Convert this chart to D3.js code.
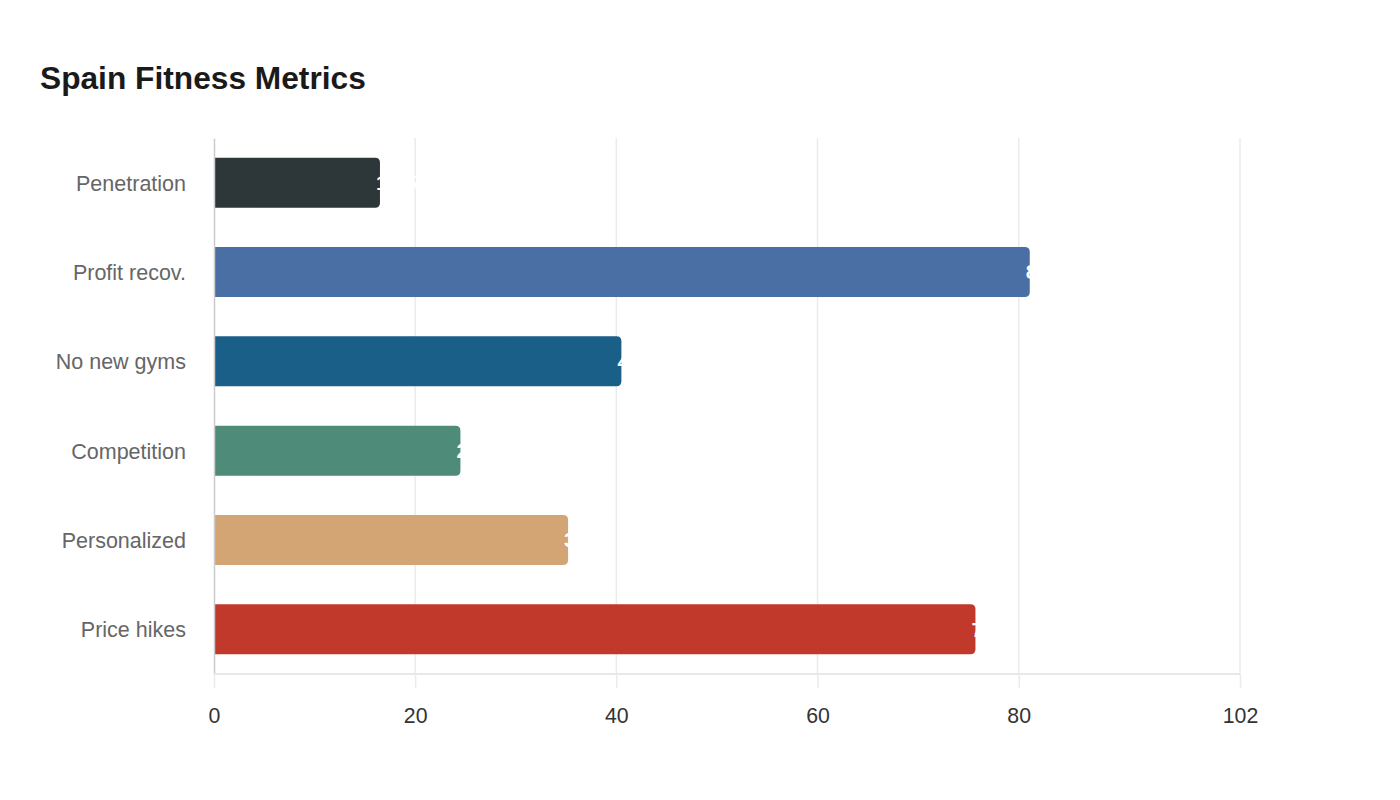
<!DOCTYPE html>
<html>
<head>
<meta charset="utf-8">
<script src="https://cdn.jsdelivr.net/npm/d3@7"></script>
<style>
  html, body { margin: 0; padding: 0; background: #fff; }
  svg { display: block; font-family: "Liberation Sans", Arial, sans-serif; }
</style>
</head>
<body>
<svg id="chart" width="1400" height="800"></svg>
<script>
const categories = ["Penetration", "Profit recov.", "No new gyms", "Competition", "Personalized", "Price hikes"];
const values = [16.5, 81.1, 40.5, 24.5, 35.2, 75.7];
const colors = ["#2d3638", "#4a6fa5", "#1a5f87", "#4e8c79", "#d4a574", "#c0392b"];
const tickValues = [0, 20, 40, 60, 80, 102];
const xMax = 102;
const title = "Spain Fitness Metrics";

const svg = d3.select("#chart");
const margin = { left: 214, right: 160, top: 138, bottom: 126 };
const W = 1400, H = 800;

const x = d3.scaleLinear().domain([0, xMax]).range([margin.left, W - margin.right]);
const y = d3.scaleBand().domain(categories).range([margin.top, H - margin.bottom]).paddingInner(0.44).paddingOuter(0.22);

svg.append("text")
  .attr("x", 40).attr("y", 89)
  .attr("font-size", "31.7px").attr("font-weight", "bold").attr("fill", "#1a1a1a")
  .text(title);

// grid
svg.append("g").selectAll("line").data(tickValues.slice(1)).join("line")
  .attr("x1", d => x(d)).attr("x2", d => x(d))
  .attr("y1", margin.top).attr("y2", H - margin.bottom)
  .attr("stroke", "#ebebeb").attr("stroke-width", 1.5);

// bars
function barPath(x0, y0, w, h, r) {
  r = Math.min(r, w / 2, h / 2);
  return `M${x0},${y0}H${x0 + w - r}Q${x0 + w},${y0} ${x0 + w},${y0 + r}V${y0 + h - r}Q${x0 + w},${y0 + h} ${x0 + w - r},${y0 + h}H${x0}Z`;
}
const bars = svg.append("g");
bars.selectAll("path").data(categories).join("path")
  .attr("d", (d, i) => barPath(x(0), y(d), x(values[i]) - x(0), y.bandwidth(), 5))
  .attr("fill", (d, i) => colors[i]);

// value labels (white, start at bar end)
svg.append("g").selectAll("text").data(categories).join("text")
  .attr("x", (d, i) => x(values[i]) - 4)
  .attr("y", d => y(d) + y.bandwidth() / 2)
  .attr("dy", "0.35em")
  .attr("font-size", "21px").attr("font-weight", "bold").attr("fill", "#ffffff")
  .text((d, i) => values[i]);

// y axis
const yAxis = svg.append("g").attr("transform", `translate(${margin.left},0)`)
  .call(d3.axisLeft(y).tickSize(0).tickPadding(28));
yAxis.select(".domain").attr("stroke", "#cccccc").attr("stroke-width", 1.5);
yAxis.selectAll("text").attr("font-size", "21.5px").attr("fill", "#666666").attr("dy", "0.37em")
  .attr("font-family", "'Liberation Sans', Arial, sans-serif");

// x axis
const xAxis = svg.append("g").attr("transform", `translate(0,${H - margin.bottom})`)
  .call(d3.axisBottom(x).tickValues(tickValues).tickFormat(d3.format("d")).tickSize(14).tickPadding(20));
xAxis.select(".domain").attr("stroke", "#e0e0e6").attr("stroke-width", 1.5).attr("d", `M${x(0)},0H${x(xMax)}`);
xAxis.selectAll(".tick line").attr("stroke", "#ebebeb").attr("stroke-width", 1.5);
xAxis.selectAll("text").attr("font-size", "21.3px").attr("fill", "#333333")
  .attr("font-family", "'Liberation Sans', Arial, sans-serif");
</script>
</body>
</html>
